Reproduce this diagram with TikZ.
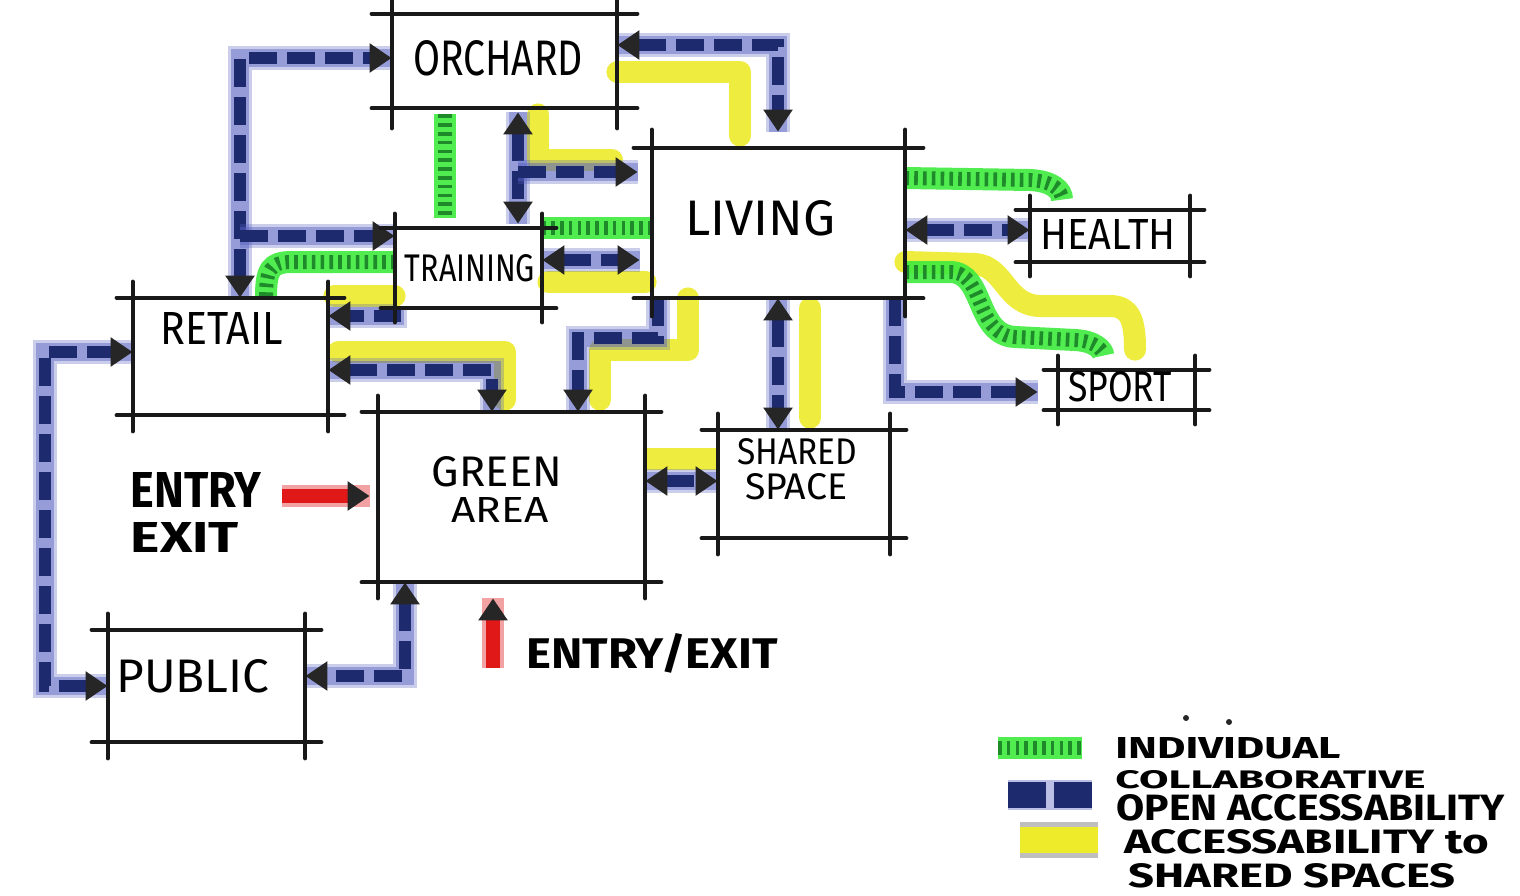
\documentclass[tikz,border=0pt]{standalone}
\usepackage{fontspec}
\setmainfont{Fira Sans}
\usetikzlibrary{arrows.meta,calc,fit}
\definecolor{navy}{HTML}{1E2A6E}
\definecolor{halo}{HTML}{5560C0}
\definecolor{ylw}{HTML}{EDEB2A}
\definecolor{grnglow}{HTML}{3EEA3E}
\definecolor{grndark}{HTML}{1E8A2A}
\definecolor{redc}{HTML}{E01818}
\newcommand\hw[3]{\resizebox{\dimexpr #1pt/2\relax}{\dimexpr #2pt/2\relax}{#3}}
\newcommand\skbox[2]{%
 \draw[boxline] ($(#1.north west)+(-#2,0)$) -- ($(#1.north east)+(#2,0)$);
 \draw[boxline] ($(#1.south west)+(-#2,0)$) -- ($(#1.south east)+(#2,0)$);
 \draw[boxline] ($(#1.north west)+(0,-#2)$) -- ($(#1.south west)+(0,#2)$);
 \draw[boxline] ($(#1.north east)+(0,-#2)$) -- ($(#1.south east)+(0,#2)$);}
\tikzset{
 boxline/.style={line width=2pt, draw=black!90, line cap=round},
 area/.style={inner sep=0pt, draw=none},
 openacc/.style={draw=navy, line width=6pt, dash pattern=on 14pt off 5pt,
   preaction={draw=halo, draw opacity=0.3, line width=12pt, arrows=-, solid},
   preaction={draw=halo, draw opacity=0.45, line width=9pt, arrows=-, solid}},
 sharedacc/.style={draw=ylw, line width=11pt, draw opacity=0.9, line cap=round, line join=round},
 indiv/.style={draw=grndark, line width=7pt, dash pattern=on 1.8pt off 2.6pt,
   preaction={draw=grnglow, line width=11pt, draw opacity=0.9, solid}},
 entryarrow/.style={draw=redc, line width=7pt,
   preaction={draw=redc, draw opacity=0.4, line width=11pt, arrows=-}},
 lbl/.style={inner sep=0pt},
 leglbl/.style={inner sep=0pt, anchor=base west, font=\bfseries},
}
\begin{document}
\begin{tikzpicture}[x=0.5pt,y=-0.5pt,>={Triangle[length=11pt,width=14pt,color=black!85]}]
\useasboundingbox (0,0) rectangle (1520,895);
\fill[white] (0,0) rectangle (1520,895);
% areas
\node[area, fit={(392,14) (617,108)}] (orchard) {};
\node[area, fit={(395,228) (542,308)}] (training) {};
\node[area, fit={(652,148) (905,298)}] (living) {};
\node[area, fit={(1030,210) (1190,262)}] (health) {};
\node[area, fit={(1058,370) (1195,410)}] (sport) {};
\node[area, fit={(133,298) (328,415)}] (retail) {};
\node[area, fit={(378,412) (645,582)}] (greenarea) {};
\node[area, fit={(718,430) (890,538)}] (shared) {};
\node[area, fit={(108,630) (305,742)}] (public) {};
% bend points
\coordinate (j1) at (240,236);
\coordinate (c1) at (45,686);
\coordinate (c2) at (45,352);
\coordinate (j2) at (518,172);
\coordinate (b11) at (658,338);
\coordinate (y4e) at (612,160);
\coordinate (y11) at (600,350);
\coordinate (r1) at (282,496);
\coordinate (r2) at (493,668);
% yellow: accessibility to shared spaces
\draw[sharedacc, shorten >=6pt] (orchard.east |- 0,72) -| (living.north -| 740,0);
\draw[sharedacc, shorten <=3pt] (orchard.south -| 538,0) |- (y4e);
\draw[sharedacc, shorten <=3pt, shorten >=3pt] (training.east |- 0,282) -- (living.west |- 0,282);
\draw[sharedacc, shorten <=3pt] (retail.east |- 0,296) -- (training.west |- 0,296);
\draw[sharedacc, shorten >=6pt] ($(retail.east |- 0,352)+(10,0)$) -| (greenarea.north -| 505,0);
\draw[sharedacc, shorten >=6pt] (living.south -| 688,0) |- (y11) -- (greenarea.north -| y11);
\draw[sharedacc, shorten <=5pt, shorten >=6pt] (living.south -| 810,0) -- (shared.north -| 810,0);
\draw[sharedacc, line cap=butt] (greenarea.east |- 0,459) -- (shared.west |- 0,459);
\draw[sharedacc, shorten >=10pt] (living.east |- 0,262) -- (975,264) .. controls (1005,266) and (1005,305) .. (1040,306) -- (1110,306) .. controls (1130,306) and (1135,320) .. (sport.north -| 1135,0);
% blue: collaborative / open accessability
\draw[openacc,<->] (retail.north -| j1) |- (orchard.west |- 0,58);
\draw[openacc,->] (j1) -- (training.west |- j1);
\draw[openacc,<->] (public.west |- c1) -- (c1) -- (c2) -- (retail.west |- c2);
\draw[openacc,<->, shorten >=8pt] (orchard.east |- 0,45) -| (living.north -| 778,0);
\draw[openacc,<->, shorten <=2pt, shorten >=2pt] (orchard.south -| j2) -- (training.north -| j2);
\draw[openacc,->, shorten >=7pt] (j2) -- (living.west |- j2);
\draw[openacc,<->, shorten >=6pt] (training.east |- 0,260) -- (living.west |- 0,260);
\draw[openacc,->] (training.south west) |- (retail.east |- 0,316);
\draw[openacc,<->] (retail.east |- 0,370) -| (greenarea.north -| 492,0);
\draw[openacc,->] (living.south -| b11) -- (b11) -| (greenarea.north -| 578,0);
\draw[openacc,<->] (living.south -| 778,0) -- (shared.north -| 778,0);
\draw[openacc,<->] (greenarea.east |- 0,481) -- (shared.west |- 0,481);
\draw[openacc,->, shorten >=10pt] (living.south -| 895,0) |- (sport.west |- 0,392);
\draw[openacc,<->] (living.east |- 0,230) -- (health.west |- 0,230);
\draw[openacc,<->] (greenarea.south -| 405,0) |- (public.east |- 0,676);
% green: individual
\draw[indiv, shorten <=3pt, shorten >=5pt] (orchard.south -| 445,0) -- (training.north -| 445,0);
\draw[indiv] (training.east |- 0,228) -- (living.west |- 0,228);
\draw[indiv] (training.west |- 0,262) -- (292,262) .. controls (270,262) and (266,270) .. (retail.north -| 266,0);
\draw[indiv, shorten >=5pt] (living.east |- 0,178) -- (1030,180) .. controls (1052,181) and (1062,190) .. (health.north -| 1062,0);
\draw[indiv, shorten >=7pt] (living.east |- 0,272) -- (950,272) .. controls (985,272) and (975,335) .. (1015,337) -- (1075,340) .. controls (1095,341) and (1103,350) .. (sport.north -| 1104,0);
% red entry arrows
\draw[entryarrow,->, shorten >=4pt] (r1) -- (greenarea.west |- r1);
\draw[entryarrow,->, shorten >=8pt] (r2) -- (greenarea.south -| r2);
% sketched boxes
\skbox{orchard}{20}
\skbox{training}{14}
\skbox{living}{18}
\skbox{health}{14}
\skbox{sport}{14}
\skbox{retail}{16}
\skbox{greenarea}{16}
\skbox{shared}{16}
\skbox{public}{16}
% labels
\node[lbl] (orchardl) at (498,58) {\hw{170}{35}{ORCHARD}};
\node[lbl] (trainingl) at (470,268) {\hw{130}{27}{TRAINING}};
\node[lbl] (livingl) at (760,218) {\hw{150}{35}{LIVING}};
\node[lbl] (healthl) at (1108,234) {\hw{135}{30}{HEALTH}};
\node[lbl] (sportl) at (1120,387) {\hw{104}{30}{SPORT}};
\node[lbl] (retaill) at (222,328) {\hw{122}{32}{RETAIL}};
\node[lbl, anchor=base] (greenl) at (497,486) {\hw{130}{30}{GREEN}};
\node[lbl, anchor=base] (areal) at (500,522) {\hw{97}{25}{AREA}};
\node[lbl] (sharedl) at (797,452) {\hw{120}{26}{SHARED}};
\node[lbl] (spacel) at (796,487) {\hw{102}{26}{SPACE}};
\node[lbl] (publicl) at (193,676) {\hw{153}{33}{PUBLIC}};
\node[lbl, font=\bfseries] (entryl) at (196,490) {\hw{131}{35}{ENTRY}};
\node[lbl, font=\bfseries] (exitl) at (185,537) {\hw{108}{30}{EXIT}};
\node[lbl, font=\bfseries] (entry2l) at (652,653) {\hw{251}{35}{ENTRY/EXIT}};
% legend
\coordinate (lg1a) at (998,748); \coordinate (lg1b) at (1082,748);
\coordinate (lg2a) at (1008,795); \coordinate (lg2b) at (1092,795);
\coordinate (lg3a) at (1020,840); \coordinate (lg3b) at (1098,840);
\draw[indiv] (lg1a) -- (lg1b);
\draw[draw=navy, line width=13pt, dash pattern=on 19pt off 4pt,
  preaction={draw=halo, draw opacity=0.4, line width=15pt, solid}] (lg2a) -- (lg2b);
\draw[draw=ylw, line width=13pt,
  preaction={draw=gray, draw opacity=0.5, line width=18pt}] (lg3a) -- (lg3b);
\fill[black!85] (1186,718) circle (3) (1229,722) circle (3);
\node[leglbl] (lt1) at (1115,758) {\hw{225}{21}{INDIVIDUAL}};
\node[leglbl] (lt2) at (1115,788) {\hw{310}{18}{COLLABORATIVE}};
\node[leglbl] (lt3) at (1116,820) {\hw{388}{26}{OPEN ACCESSABILITY}};
\node[leglbl] (lt4) at (1124,853) {\hw{365}{24}{ACCESSABILITY to}};
\node[leglbl] (lt5) at (1128,887) {\hw{327}{24}{SHARED SPACES}};
\end{tikzpicture}
\end{document}
